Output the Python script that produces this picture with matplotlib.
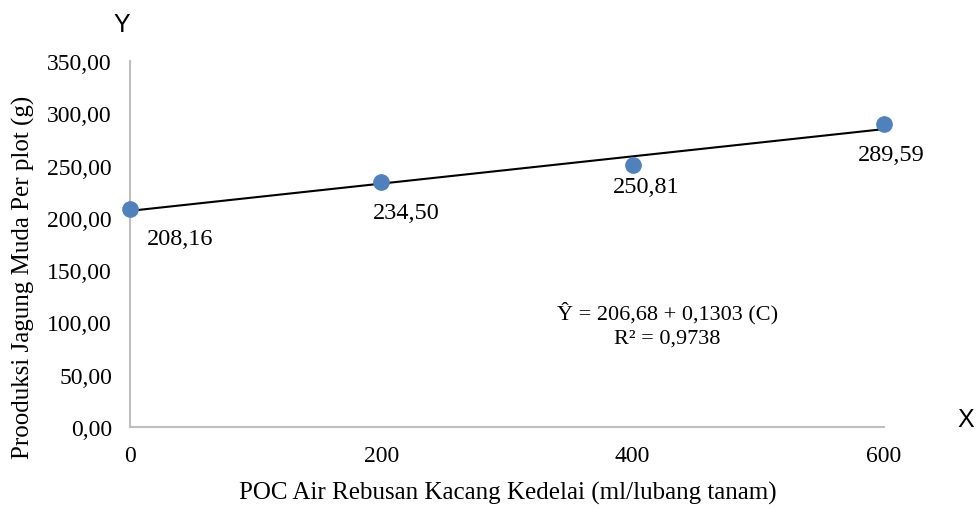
import matplotlib.pyplot as plt
import numpy as np

# POC dose (ml/lubang tanam) vs young corn yield per plot (g)
dosis = [0, 200, 400, 600]
produksi = [208.16, 234.50, 250.81, 289.59]
label_produksi = ["208,16", "234,50", "250,81", "289,59"]
x_ticks = [0, 200, 400, 600]
y_ticks = [0, 50, 100, 150, 200, 250, 300, 350]

# regression line: Y = 206.68 + 0.1303 C
intercept = 206.68
slope = 0.1303

plt.rcParams['font.family'] = ['Liberation Serif', 'DejaVu Serif']

fig = plt.figure(figsize=(9.76, 5.06), dpi=100)
ax = fig.add_axes([0.1332, 0.1542, 0.7725, 0.7233])

line_x = np.array([dosis[0], dosis[-1]])
ax.plot(line_x, intercept + slope * line_x, color='black', lw=1.5, zorder=2,
        clip_on=False)
ax.plot(dosis, produksi, 'o', color='#4F81BD', ms=11, zorder=3, clip_on=False)

# data labels sit below and to the right of each point (offsets in points)
offsets = [(36, -21), (18, -22), (10, -16), (5, -22)]
for x, y, txt, off in zip(dosis, produksi, label_produksi, offsets):
    ax.annotate(txt, (x, y), xytext=off, textcoords='offset points',
                ha='center', va='center', fontsize=17.5)

ax.set_xlim(0, 600)
ax.set_ylim(0, 350)
ax.set_xticks(x_ticks)
ax.set_xticklabels([str(v) for v in x_ticks])
ax.set_yticks(y_ticks)
ax.set_yticklabels([f"{v:.2f}".replace('.', ',') for v in y_ticks])
ax.tick_params(length=0, labelsize=17)
ax.tick_params(axis='y', pad=13)
ax.tick_params(axis='x', pad=13)

for side in ['top', 'right']:
    ax.spines[side].set_visible(False)
for side in ['left', 'bottom']:
    ax.spines[side].set_color('#BFBFBF')
    ax.spines[side].set_linewidth(1.5)

fig.text(508 / 976, 1 - 493 / 506, "POC Air Rebusan Kacang Kedelai (ml/lubang tanam)",
         fontsize=18, ha='center', va='center')
fig.text(23 / 976, 1 - 277 / 506, "Prooduksi Jagung Muda Per plot (g)",
         fontsize=18, ha='center', va='center', rotation=90)

fig.text(0.684, 1 - 325 / 506, "Ŷ = 206,68 + 0,1303 (C)\nR² = 0,9738",
         ha='center', va='center', fontsize=16, linespacing=1.35)

fig.text(122 / 976, 1 - 25 / 506, "Y", family=['Liberation Sans', 'DejaVu Sans'],
         fontsize=18, ha='center', va='center')
fig.text(966 / 976, 1 - 420 / 506, "X", family=['Liberation Sans', 'DejaVu Sans'],
         fontsize=18, ha='center', va='center')

fig.savefig("out.png", dpi=100)
